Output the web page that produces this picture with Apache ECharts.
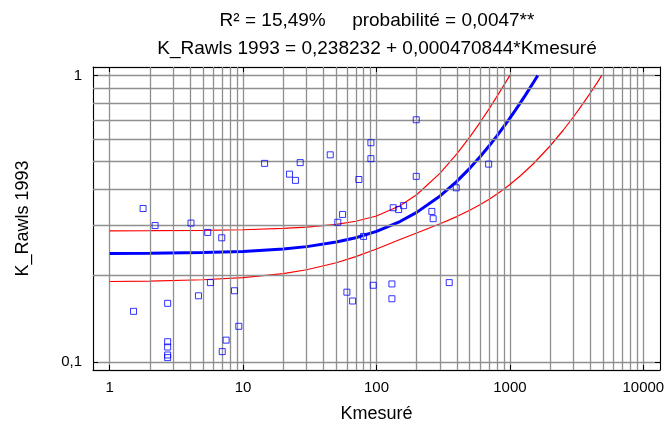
<!DOCTYPE html>
<html>
<head>
<meta charset="utf-8">
<script src="https://cdn.jsdelivr.net/npm/echarts@6/dist/echarts.min.js"></script>
<style>
  html, body { margin: 0; padding: 0; background: #fff; }
  #chart { width: 672px; height: 428px; }
</style>
</head>
<body>
<div id="chart"></div>
<script>
var kMesure = [1.78, 2.19, 4.07, 5.43, 6.92, 5.69, 4.63, 8.62, 2.72, 1.51, 9.29, 7.46, 6.98,
  2.72, 2.72, 2.72, 2.72, 14.5, 26.8, 22.3, 24.7, 45.0, 90.8, 90.8, 73.8, 198.6, 198.6, 396,
  133.5, 146.5, 159.7, 55.7, 51.3, 80.0, 260, 266, 60, 66.2, 94.5, 130.5, 130.5, 351, 693];
var kRawls = [0.343, 0.299, 0.305, 0.283, 0.271, 0.189, 0.170, 0.177, 0.160, 0.150, 0.133, 0.119, 0.1085,
  0.1175, 0.1126, 0.1056, 0.1034, 0.493, 0.496, 0.452, 0.430, 0.528, 0.582, 0.512, 0.433, 0.70, 0.444, 0.405,
  0.345, 0.340, 0.351, 0.327, 0.307, 0.274, 0.335, 0.316, 0.175, 0.163, 0.185, 0.187, 0.166, 0.189, 0.49];

// droite ajustée
var fitX = [1, 2, 5, 10, 20, 30, 50, 70, 100, 150, 200, 300, 400, 500, 600, 700, 800, 900, 1000, 1100, 1200, 1300, 1400, 1500, 1618];
var fitY = [0.2387, 0.2392, 0.2406, 0.2429, 0.2477, 0.2524, 0.2618, 0.2712, 0.2853, 0.3089, 0.3324, 0.3795, 0.4266, 0.4737, 0.5207, 0.5678, 0.6149, 0.6620, 0.7091, 0.7562, 0.8032, 0.8503, 0.8974, 0.9445, 1.0];

// limites de confiance
var upX = [1, 2, 5, 10, 20, 30, 50, 70, 100, 150, 200, 300, 400, 500, 600, 700, 800, 900, 1000];
var upY = [0.2867, 0.2870, 0.2878, 0.2891, 0.2921, 0.2952, 0.3019, 0.3095, 0.3229, 0.3505, 0.3831, 0.4556, 0.5318, 0.6093, 0.6874, 0.7659, 0.8446, 0.9234, 1.0];
var loX = [1, 2, 5, 10, 20, 30, 50, 70, 100, 150, 200, 300, 400, 500, 600, 700, 800, 900, 1000, 1200, 1500, 2000, 2500, 3000, 3500, 4000, 4500, 4880];
var loY = [0.1907, 0.1914, 0.1934, 0.1967, 0.2033, 0.2096, 0.2217, 0.2329, 0.2477, 0.2673, 0.2817, 0.3035, 0.3214, 0.3381, 0.3540, 0.3697, 0.3852, 0.4006, 0.4159, 0.4462, 0.4916, 0.5669, 0.6421, 0.7172, 0.7922, 0.8672, 0.9422, 1.0];

// graduations secondaires
var xMinor = [2, 3, 4, 5, 6, 7, 8, 9, 20, 30, 40, 50, 60, 70, 80, 90,
  200, 300, 400, 500, 600, 700, 800, 900, 2000, 3000, 4000, 5000, 6000, 7000, 8000, 9000];
var yMinor = [0.2, 0.3, 0.4, 0.5, 0.6, 0.7, 0.8, 0.9];

function pairs(xs, ys) {
  return xs.map(function (x, i) { return [x, ys[i]]; });
}

var myChart = echarts.init(document.getElementById('chart'));

var gridColor = '#8f8f8f';
var xMin = 0.75, xMax = 13340, yMin = 0.0936, yMax = 1.07;
var titleStyle = { fontSize: 19, fontWeight: 'normal', color: '#000', fontFamily: 'Liberation Sans' };

// position des décades 1 et 10000 dans la zone du graphique (pour les petites graduations)
var plotLeft = 93, plotRight = 12, plotW = 672 - plotLeft - plotRight;
var span = Math.log10(xMax) - Math.log10(xMin);
var tickLeft = plotLeft + (0 - Math.log10(xMin)) / span * plotW;
var tickRight = plotRight + (Math.log10(xMax) - 4) / span * plotW;

function borderAxis(pos, lo, hi, minor) {
  return {
    type: 'log', logBase: 10, min: lo, max: hi, position: pos,
    axisLine: { show: true, lineStyle: { color: '#000', width: 1 } },
    axisTick: { show: true, inside: true, length: 5, lineStyle: { color: '#000' } },
    minorTick: { show: minor, splitNumber: 9, length: 5, lineStyle: { color: '#000' } },
    axisLabel: { show: false },
    splitLine: { show: false }
  };
}

function minorXAxis(pos) {
  return {
    type: 'log', logBase: 10, min: 1, max: 10000, position: pos, gridIndex: 1,
    axisLine: { show: false },
    axisTick: { show: false, inside: true },
    minorTick: { show: true, splitNumber: 9, length: 5, lineStyle: { color: '#000' } },
    axisLabel: { show: false },
    splitLine: { show: false }
  };
}

var option = {
  animation: false,
  textStyle: { fontFamily: 'Liberation Sans', color: '#000' },
  title: [
    { text: 'R² = 15,49%     probabilité = 0,0047**', left: 377, textAlign: 'center', top: 11, padding: 0, textStyle: titleStyle },
    { text: 'K_Rawls 1993 = 0,238232 + 0,000470844*Kmesuré', left: 377, textAlign: 'center', top: 39, padding: 0, textStyle: titleStyle }
  ],
  grid: [
    { left: plotLeft, top: 67, right: plotRight, bottom: 57 },
    { left: tickLeft, top: 67, right: tickRight, bottom: 57 }
  ],
  xAxis: [
    {
      type: 'log', logBase: 10, min: xMin, max: xMax, position: 'bottom',
      name: 'Kmesuré', nameLocation: 'middle', nameGap: 35,
      nameTextStyle: { fontSize: 18, color: '#000' },
      axisLine: { show: true, lineStyle: { color: '#000', width: 1 } },
      axisTick: { show: true, inside: true, length: 5, lineStyle: { color: '#000' } },
      axisLabel: {
        fontSize: 15, color: '#000', margin: 10, showMinLabel: false, showMaxLabel: false,
        formatter: function (v) { return String(Math.round(v)); }
      },
      splitLine: { show: true, lineStyle: { color: gridColor, width: 1.3 } }
    },
    borderAxis('top', xMin, xMax, false),
    minorXAxis('bottom'),
    minorXAxis('top')
  ],
  yAxis: [
    {
      type: 'log', logBase: 10, min: yMin, max: yMax, position: 'left',
      name: 'K_Rawls 1993', nameLocation: 'middle', nameGap: 61,
      nameTextStyle: { fontSize: 18, color: '#000' },
      axisLine: { show: true, lineStyle: { color: '#000', width: 1 } },
      axisTick: { show: true, inside: true, length: 5, lineStyle: { color: '#000' } },
      minorTick: { show: true, splitNumber: 9, length: 5, lineStyle: { color: '#000' } },
      axisLabel: {
        fontSize: 15, color: '#000', margin: 11, showMinLabel: false, showMaxLabel: false,
        formatter: function (v) { return String(+v.toPrecision(3)).replace('.', ','); }
      },
      splitLine: { show: true, lineStyle: { color: gridColor, width: 1.3 } }
    },
    borderAxis('right', yMin, yMax, true),
    { type: 'value', gridIndex: 1, min: 0, max: 1, show: false }
  ],
  series: [
    {
      name: 'grille',
      type: 'line',
      data: [],
      z: 1,
      silent: true,
      markLine: {
        silent: true,
        symbol: ['none', 'none'],
        label: { show: false },
        lineStyle: { color: gridColor, width: 1.3, type: 'solid' },
        emphasis: { disabled: true },
        data: xMinor.map(function (v) { return { xAxis: v }; })
          .concat(yMinor.map(function (v) { return { yAxis: v }; }))
      }
    },
    {
      name: 'limite inférieure',
      type: 'line',
      data: pairs(loX, loY),
      showSymbol: false,
      lineStyle: { color: '#ff0000', width: 1.2 },
      z: 3
    },
    {
      name: 'limite supérieure',
      type: 'line',
      data: pairs(upX, upY),
      showSymbol: false,
      lineStyle: { color: '#ff0000', width: 1.2 },
      z: 3
    },
    {
      name: 'ajustement',
      type: 'line',
      data: pairs(fitX, fitY),
      showSymbol: false,
      lineStyle: { color: '#0000ff', width: 3 },
      z: 4
    },
    {
      name: 'observations',
      type: 'scatter',
      data: pairs(kMesure, kRawls),
      symbol: 'rect',
      symbolSize: 6,
      itemStyle: { color: 'rgba(0,0,0,0)', borderColor: '#0000ff', borderWidth: 1 },
      z: 5
    }
  ]
};

myChart.setOption(option);
</script>
</body>
</html>
